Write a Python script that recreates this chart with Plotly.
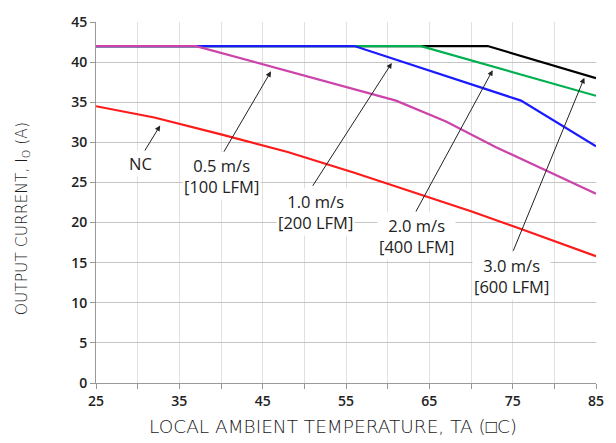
import plotly.graph_objects as go

# ---- data ----
temps_nc = [25, 32, 40, 48, 56, 64, 70, 76, 85]
cur_nc = [34.5, 33.1, 31.0, 28.8, 26.2, 23.5, 21.4, 19.2, 15.8]

temps_05 = [25, 37, 61, 67, 73, 85]
cur_05 = [42, 42, 35.2, 32.6, 29.4, 23.6]

temps_10 = [25, 56, 76, 85]
cur_10 = [42, 42, 35.2, 29.5]

temps_20 = [25, 64, 85]
cur_20 = [42, 42, 35.8]

temps_30 = [25, 72, 85]
cur_30 = [42, 42, 38.0]

x_ticks = [25, 35, 45, 55, 65, 75, 85]
y_ticks = [0, 5, 10, 15, 20, 25, 30, 35, 40, 45]

x_title = "LOCAL AMBIENT TEMPERATURE, TA (\u25a1C)"
y_title = "OUTPUT CURRENT, I<sub>O</sub> (A)"

# labels: text, text position (x, y), arrow tail (x, y), arrow head (x, y)
label_text = ["NC", "0.5 m/s<br>[100 LFM]", "1.0 m/s<br>[200 LFM]",
              "2.0 m/s<br>[400 LFM]", "3.0 m/s<br>[600 LFM]"]
label_x = [30.3, 40.1, 51.35, 63.4, 74.9]
label_y = [27.4, 25.8, 21.3, 18.3, 13.3]
tail_x = [30.7, 40.25, 50.9, 63.3, 75.0]
tail_y = [28.7, 28.65, 24.4, 21.2, 16.3]
head_x = [32.7, 46.0, 60.5, 72.6, 83.6]
head_y = [32.1, 38.85, 39.9, 39.0, 38.05]

series = [
    (temps_30, cur_30, "#000000", "3.0 m/s"),
    (temps_20, cur_20, "#00B050", "2.0 m/s"),
    (temps_10, cur_10, "#1A1AFF", "1.0 m/s"),
    (temps_05, cur_05, "#CC44AA", "0.5 m/s"),
    (temps_nc, cur_nc, "#FF1A1A", "NC"),
]

fig = go.Figure()
for xs, ys, col, name in series:
    fig.add_trace(go.Scatter(x=xs, y=ys, mode="lines", name=name,
                             line=dict(color=col, width=2.2)))

annotations = []
for i in range(len(label_text)):
    annotations.append(dict(
        x=head_x[i], y=head_y[i], ax=tail_x[i], ay=tail_y[i],
        xref="x", yref="y", axref="x", ayref="y",
        text="", showarrow=True, arrowhead=2, arrowsize=1.1,
        arrowwidth=1, arrowcolor="#222222", standoff=0, startstandoff=0))
for i in range(len(label_text)):
    annotations.append(dict(
        x=label_x[i], y=label_y[i], xref="x", yref="y",
        text=label_text[i], showarrow=False,
        xanchor="center", yanchor="middle",
        bgcolor="white", borderpad=1,
        font=dict(family="Open Sans", size=16.5, color="#222222")))

# axis titles (placed as paper-anchored text)
annotations.append(dict(
    text=x_title, xref="paper", yref="paper", x=0.474, y=-0.121,
    xanchor="center", yanchor="middle", showarrow=False,
    font=dict(family="DejaVu Sans", size=18.5, color="#1A1A1A", weight=300)))
annotations.append(dict(
    text=y_title, xref="paper", yref="paper", x=-0.147, y=0.455,
    xanchor="center", yanchor="middle", showarrow=False, textangle=-90,
    font=dict(family="DejaVu Sans", size=15.5, color="#1A1A1A", weight=300)))

tick_font = dict(family="Open Sans", size=14, color="#222222", weight=600)

fig.update_layout(
    width=616, height=443,
    margin=dict(l=96, r=19, t=12, b=60),
    paper_bgcolor="white", plot_bgcolor="white",
    showlegend=False,
    annotations=annotations,
    font=dict(family="Open Sans", color="#222222"),
)

fig.update_xaxes(
    range=[25, 85], tickvals=x_ticks, ticktext=[str(v) for v in x_ticks],
    showgrid=True, gridcolor="#E0E0E0", gridwidth=1,
    minor=dict(dtick=5, tick0=25, showgrid=True, gridcolor="#E0E0E0",
               ticks="outside", ticklen=5, tickcolor="#999999"),
    ticks="outside", ticklen=5, tickcolor="#999999",
    showline=True, linecolor="#999999", linewidth=1,
    zeroline=False, tickfont=tick_font,
)
fig.update_yaxes(
    range=[0, 45], tickvals=y_ticks, ticktext=[str(v) for v in y_ticks],
    showgrid=True, gridcolor="#C4C4C4", gridwidth=1,
    ticks="outside", ticklen=5, tickcolor="#999999",
    showline=True, linecolor="#999999", linewidth=1,
    zeroline=False, tickfont=tick_font,
)

fig.write_html("out.html", config={"displayModeBar": False})
